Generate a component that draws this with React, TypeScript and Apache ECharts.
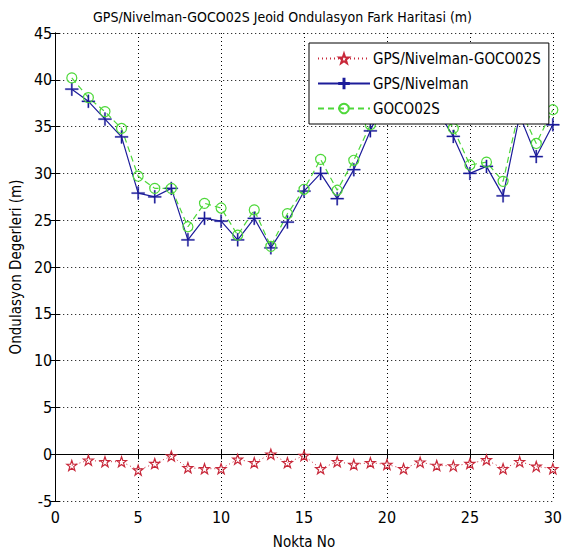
import React, { useEffect, useRef } from "react";
import * as echarts from "echarts";

const nokta = [1,2,3,4,5,6,7,8,9,10,11,12,13,14,15,16,17,18,19,20,21,22,23,24,25,26,27,28,29,30];
const fark = [-1.2,-0.65,-0.8,-0.8,-1.7,-1.0,-0.2,-1.45,-1.55,-1.55,-0.55,-0.9,0.0,-0.9,-0.15,-1.55,-0.8,-1.1,-0.9,-1.1,-1.55,-0.85,-1.2,-1.25,-1.0,-0.6,-1.55,-0.8,-1.3,-1.55];
const gpsNivelman = [39.0,37.7,35.8,33.9,27.9,27.5,28.4,22.9,25.2,24.9,22.9,25.2,22.05,24.8,28.1,30.0,27.3,30.4,34.55,38.5,37.5,38.0,36.8,33.95,30.0,30.75,27.6,36.2,31.8,35.2];
const goco02s = [40.2,38.1,36.6,34.8,29.7,28.4,28.4,24.3,26.8,26.3,23.4,26.1,22.2,25.7,28.3,31.5,28.2,31.4,35.2,39.6,39.05,38.85,38.0,34.8,30.9,31.2,29.15,37.0,33.2,36.8];
const xTicks = [0, 5, 10, 15, 20, 25, 30];
const yTicks = [-5, 0, 5, 10, 15, 20, 25, 30, 35, 40, 45];

const FONT = "'Liberation Sans Narrow', 'DejaVu Sans Condensed', 'Liberation Sans', sans-serif";
const STAR = "path://M10,0L12.35,6.76L19.51,6.91L13.8,11.24L15.88,18.09L10,14L4.12,18.09L6.2,11.24L0.49,6.91L7.65,6.76Z";
const PLUS = "path://M4.5,0H5.5V4.5H10V5.5H5.5V10H4.5V5.5H0V4.5H4.5Z";

const RED = "#c8283a";
const BLUE = "#1c1c9a";
const GREEN = "#4ed83a";

export default function App() {
  const ref = useRef<HTMLDivElement>(null);
  useEffect(() => {
    if (!ref.current) return;
    const chart = echarts.init(ref.current, undefined, { renderer: "svg" });
    const pairs = (ys: number[]) => nokta.map((x, i) => [x, ys[i]]);
    const axisCommon = {
      type: "value" as const,
      axisLine: { show: true, lineStyle: { color: "#000", width: 1 } },
      axisTick: { show: true, inside: true, length: 5, lineStyle: { color: "#000" } },
    };
    chart.setOption({
      animation: false,
      backgroundColor: "#fff",
      title: {
        text: "GPS/Nivelman-GOCO02S Jeoid Ondulasyon Fark Haritasi (m)",
        left: "center",
        top: 5,
        textStyle: { fontFamily: FONT, fontSize: 14, fontWeight: "normal", color: "#000" },
      },
      grid: { left: 53, right: 7, top: 33, bottom: 52, containLabel: false },
      xAxis: [
        {
          ...axisCommon,
          min: xTicks[0],
          max: xTicks[xTicks.length - 1],
          interval: 5,
          position: "bottom",
          name: "Nokta No",
          nameLocation: "middle",
          nameGap: 33,
          nameTextStyle: { fontFamily: FONT, fontSize: 15, color: "#000" },
          axisLabel: { fontFamily: FONT, fontSize: 16, color: "#000", margin: 8 },
          splitLine: { show: true, lineStyle: { color: "#000", type: [1, 3], width: 1 } },
        },
        {
          ...axisCommon,
          min: xTicks[0],
          max: xTicks[xTicks.length - 1],
          interval: 5,
          position: "top",
          axisLabel: { show: false },
          splitLine: { show: false },
        },
      ],
      yAxis: [
        {
          ...axisCommon,
          min: yTicks[0],
          max: yTicks[yTicks.length - 1],
          interval: 5,
          position: "left",
          name: "Ondulasyon Degerleri (m)",
          nameLocation: "middle",
          nameGap: 26,
          nameTextStyle: { fontFamily: FONT, fontSize: 15, color: "#000" },
          axisLabel: { fontFamily: FONT, fontSize: 16, color: "#000", margin: 3 },
          splitLine: { show: true, lineStyle: { color: "#000", type: [1, 3], width: 1 } },
        },
        {
          ...axisCommon,
          min: yTicks[0],
          max: yTicks[yTicks.length - 1],
          interval: 5,
          position: "right",
          axisLabel: { show: false },
          splitLine: { show: false },
        },
      ],
      legend: {
        orient: "vertical",
        left: 309,
        top: 43,
        padding: [8, 8, 8, 8],
        itemGap: 10,
        itemWidth: 52,
        itemHeight: 12,
        backgroundColor: "#fff",
        borderColor: "#000",
        borderWidth: 1,
        borderRadius: 0,
        textStyle: { fontFamily: FONT, fontSize: 15, color: "#000", padding: [0, 0, 0, -2] },
        data: ["GPS/Nivelman-GOCO02S", "GPS/Nivelman", "GOCO02S"],
      },
      series: [
        {
          name: "GPS/Nivelman-GOCO02S",
          type: "line",
          data: pairs(fark),
          symbol: STAR,
          symbolSize: 10,
          lineStyle: { color: RED, width: 1, type: [1, 3] },
          itemStyle: { color: "rgba(0,0,0,0)", borderColor: RED, borderWidth: 1.2 },
        },
        {
          name: "GPS/Nivelman",
          type: "line",
          data: pairs(gpsNivelman),
          symbol: PLUS,
          symbolSize: 13,
          lineStyle: { color: BLUE, width: 1.2, type: "solid" },
          itemStyle: { color: BLUE, borderColor: BLUE, borderWidth: 0.3 },
        },
        {
          name: "GOCO02S",
          type: "line",
          data: pairs(goco02s),
          symbol: "circle",
          symbolSize: 10,
          lineStyle: { color: GREEN, width: 1.2, type: [6, 4] },
          itemStyle: { color: "rgba(0,0,0,0)", borderColor: GREEN, borderWidth: 1.2 },
        },
      ],
    });
    return () => chart.dispose();
  }, []);
  return <div ref={ref} style={{ width: 565, height: 554, position: "absolute", left: 0, top: 0 }} />;
}
